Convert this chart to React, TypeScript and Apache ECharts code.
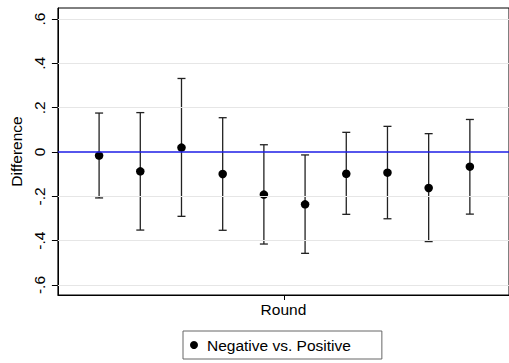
import React, { useEffect, useRef } from "react";
import * as echarts from "echarts";

const rounds = [1, 2, 3, 4, 5, 6, 7, 8, 9, 10];
const diffs = [-0.016, -0.087, 0.02, -0.099, -0.192, -0.236, -0.098, -0.093, -0.162, -0.066];
const uppers = [0.176, 0.178, 0.332, 0.155, 0.033, -0.013, 0.089, 0.116, 0.083, 0.147];
const lowers = [-0.207, -0.352, -0.29, -0.353, -0.415, -0.457, -0.281, -0.301, -0.404, -0.28];
const yTicks = [-0.6, -0.4, -0.2, 0, 0.2, 0.4, 0.6];
const yTickLabels = ["-.6", "-.4", "-.2", "0", ".2", ".4", ".6"];
const seriesName = "Negative vs. Positive";
const xTitle = "Round";
const yTitle = "Difference";
const xTickAt = 5.5;

const FONT = "Liberation Sans, Arial, sans-serif";

export default function App() {
  const ref = useRef<HTMLDivElement>(null);
  useEffect(() => {
    if (!ref.current) return;
    const chart = echarts.init(ref.current, undefined, { renderer: "svg" });
    const gridLines = yTicks.filter((v) => v !== 0).map((v) => ({ yAxis: v }));
    chart.setOption({
      animation: false,
      textStyle: { fontFamily: FONT },
      grid: {
        show: true,
        left: 56,
        top: 8,
        right: -2,
        bottom: 68,
        borderColor: "#000",
        borderWidth: 1,
        backgroundColor: "#fff",
      },
      legend: {
        data: [seriesName],
        left: 183,
        top: 331,
        orient: "horizontal",
        icon: "circle",
        itemWidth: 8,
        itemHeight: 8,
        padding: [6, 31, 6, 7],
        borderColor: "#666",
        borderWidth: 1,
        borderRadius: 0,
        itemStyle: { opacity: 1, color: "#000" },
        textStyle: { fontSize: 15.5, color: "#000", fontFamily: FONT, padding: [0, 0, 0, 4] },
      },
      xAxis: {
        type: "value",
        min: 0,
        max: 10.95,
        name: xTitle,
        nameLocation: "middle",
        nameGap: 6,
        nameTextStyle: { fontSize: 15.5, color: "#000", fontFamily: FONT },
        axisLine: { show: true, onZero: false, lineStyle: { color: "#000", width: 1 } },
        axisTick: { show: true, customValues: [xTickAt], length: 5, lineStyle: { color: "#000" } },
        axisLabel: { show: false },
        splitLine: { show: false },
      },
      yAxis: {
        type: "value",
        min: -0.645,
        max: 0.65,
        name: yTitle,
        nameLocation: "middle",
        nameGap: 28,
        nameRotate: 90,
        nameTextStyle: { fontSize: 15.5, color: "#000", fontFamily: FONT },
        axisLine: { show: true, lineStyle: { color: "#000", width: 1 } },
        axisTick: { show: true, customValues: yTicks, length: 6, lineStyle: { color: "#000" } },
        axisLabel: {
          show: true,
          customValues: yTicks,
          rotate: 90,
          margin: 10,
          fontSize: 15.5,
          color: "#000",
          fontFamily: FONT,
          formatter: (v: number) => {
            const i = yTicks.findIndex((t) => Math.abs(t - v) < 1e-6);
            return i >= 0 ? yTickLabels[i] : "";
          },
        },
        splitLine: { show: false },
      },
      series: [
        {
          type: "line",
          data: [],
          z: 1,
          silent: true,
          markLine: {
            silent: true,
            symbol: "none",
            label: { show: false },
            lineStyle: { color: "#e6e6e6", width: 1, type: "solid" },
            data: gridLines,
          },
        },
        {
          type: "line",
          data: [],
          z: 2,
          silent: true,
          markLine: {
            silent: true,
            symbol: "none",
            label: { show: false },
            lineStyle: { color: "#1e1ee6", width: 1.5, type: "solid" },
            data: [{ yAxis: 0 }],
          },
        },
        {
          type: "custom",
          z: 3,
          silent: true,
          data: rounds.map((r, i) => [r, lowers[i], uppers[i]]),
          renderItem: (params: any, api: any) => {
            const x = api.value(0);
            const lo = api.coord([x, api.value(1)]);
            const hi = api.coord([x, api.value(2)]);
            const hw = 4;
            const style = { stroke: "#222", lineWidth: 1.3 };
            return {
              type: "group",
              children: [
                { type: "line", shape: { x1: lo[0], y1: lo[1], x2: hi[0], y2: hi[1] }, style },
                { type: "line", shape: { x1: hi[0] - hw, y1: hi[1], x2: hi[0] + hw, y2: hi[1] }, style },
                { type: "line", shape: { x1: lo[0] - hw, y1: lo[1], x2: lo[0] + hw, y2: lo[1] }, style },
              ],
            };
          },
        },
        {
          name: seriesName,
          type: "scatter",
          z: 4,
          symbol: "circle",
          symbolSize: 8.5,
          itemStyle: { color: "#000", opacity: 1 },
          data: rounds.map((r, i) => [r, diffs[i]]),
        },
      ],
    });
    return () => chart.dispose();
  }, []);
  return (
    <div
      ref={ref}
      style={{ position: "absolute", left: 0, top: 0, width: 509, height: 363, background: "#fff" }}
    />
  );
}
